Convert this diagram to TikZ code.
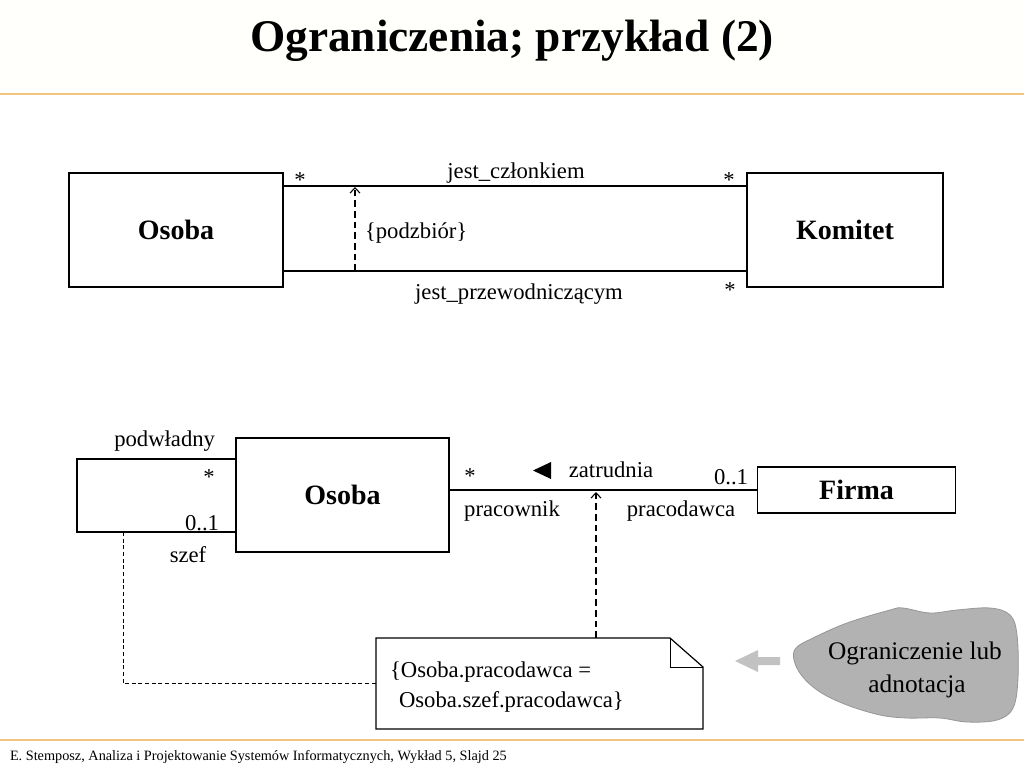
\documentclass[tikz,border=0pt]{standalone}
\usepackage{fontspec}
\setmainfont{Liberation Serif}
\usetikzlibrary{arrows.meta}
\definecolor{pomarancz}{RGB}{242,196,128}
\definecolor{kremowy}{RGB}{255,255,252}
\definecolor{szaryA}{RGB}{178,178,178}
\definecolor{szaryB}{RGB}{194,194,194}
\begin{document}
\begin{tikzpicture}[x=0.75pt,y=-0.75pt,
  every node/.style={inner sep=0pt,outer sep=0pt},
  klasa/.style={draw,line width=1.1pt,font=\fontsize{21}{25}\selectfont\bfseries},
  opis/.style={anchor=base,font=\fontsize{17}{20}\selectfont},
  linia/.style={line width=1pt},
  kreski/.style={line width=0.8pt,dash pattern=on 5pt off 3pt},
  kropki/.style={line width=0.6pt,dash pattern=on 3pt off 2pt},
  grot/.style={-{Straight Barb[length=4pt,width=7.5pt]}}]
\useasboundingbox (0,0) rectangle (1024,768);
\fill[white] (0,0) rectangle (1024,768);
\fill[kremowy] (0,0) rectangle (1024,93);
\draw[pomarancz,line width=1.2pt] (0,94) -- (1024,94);
\draw[pomarancz,line width=1.2pt] (0,740) -- (1024,740);
\node[anchor=base,font=\fontsize{34}{40}\selectfont\bfseries] (tytul) at (512,51) {Ograniczenia; przykład (2)};

\node[klasa,minimum width=160.5pt,minimum height=85.5pt] (osobaA) at (176,230) {Osoba};
\node[klasa,minimum width=147pt,minimum height=85.5pt] (komitet) at (845,230) {Komitet};
\draw[linia] ([yshift=-9.75pt]osobaA.north east) -- ([yshift=-9.75pt]komitet.north west);
\draw[linia] ([yshift=12pt]osobaA.south east) -- ([yshift=12pt]komitet.south west);
\coordinate (podA) at (355,271);
\coordinate (podB) at (355,187);
\draw[kreski,grot] (podA) -- (podB);
\node[opis] (czlonek) at (516,178) {jest\_członkiem};
\node[opis] (gwA) at (300,187) {*};
\node[opis] (gwB) at (729,187) {*};
\node[opis,anchor=base west] (podzbior) at (365,238) {\{podzbiór\}};
\node[opis] (przew) at (519,299) {jest\_przewodniczącym};
\node[opis] (gwC) at (730,297) {*};

\node[klasa,minimum width=159.75pt,minimum height=85.5pt] (osobaB) at (342.5,495) {Osoba};
\node[klasa,minimum width=148.5pt,minimum height=34.5pt] (firma) at (856.5,490) {Firma};
\draw[linia] ([yshift=-15.75pt]osobaB.north west) -- ++(-159,0) |- ([yshift=15pt]osobaB.south west);
\draw[linia] (osobaB.east |- firma.west) -- (firma.west);
\fill (551,462) -- (551,479) -- (533,470.5) -- cycle;
\node[opis,anchor=base east] (podwladny) at (215,446) {podwładny};
\node[opis] (gwD) at (209,484) {*};
\node[opis,anchor=base east] (szefMin) at (219,530) {0..1};
\node[opis] (szef) at (188,562) {szef};
\node[opis] (gwE) at (470,483) {*};
\node[opis] (zatrudnia) at (611,477) {zatrudnia};
\node[opis,anchor=base east] (firmaMin) at (748,484) {0..1};
\node[opis] (pracownik) at (512,516) {pracownik};
\node[opis] (pracodawca) at (681,516) {pracodawca};

\node[minimum width=245.25pt,minimum height=68.25pt] (notka) at (539.5,683.5) {};
\draw[line width=0.9pt] (notka.north west) -- ([xshift=-24.75pt]notka.north east) -- ([yshift=-21.75pt]notka.north east) -- (notka.south east) -- (notka.south west) -- cycle;
\draw[line width=0.7pt] ([xshift=-24.75pt]notka.north east) |- ([yshift=-21.75pt]notka.north east);
\node[opis,anchor=base west] (warunekA) at (390,677) {\{Osoba.pracodawca =};
\node[opis,anchor=base west] (warunekB) at (399,707) {Osoba.szef.pracodawca\}};
\coordinate (zatrA) at (596,492);
\draw[kreski,grot] (notka.north -| zatrA) -- (zatrA);
\coordinate (petlaB) at (123,532);
\draw[kropki] (petlaB) |- (notka.west);

\fill[szaryB] (735,661) -- (758,650) -- (758,657) -- (780,657) -- (780,665) -- (758,665) -- (758,672) -- cycle;
\filldraw[fill=szaryA,draw=szaryA!85!black,line width=0.6pt] plot[smooth cycle,tension=0.6] coordinates {(796,648) (813,638) (847,623) (890,610) (903,608) (930,613) (957,610) (990,608) (1010,615) (1017,635) (1018,678) (1013,708) (997,720) (967,722) (940,718) (907,718) (880,715) (847,705) (820,692) (802,676) (794,660)};
\node[anchor=base,font=\fontsize{19}{23}\selectfont] (chmuraA) at (915,659) {Ograniczenie lub};
\node[anchor=base,font=\fontsize{19}{23}\selectfont] (chmuraB) at (917,692) {adnotacja};

\node[anchor=base west,font=\fontsize{10.7}{13}\selectfont] (stopka) at (10,760) {E. Stemposz, Analiza i Projektowanie Systemów Informatycznych, Wykład 5, Slajd 25};
\end{tikzpicture}
\end{document}
